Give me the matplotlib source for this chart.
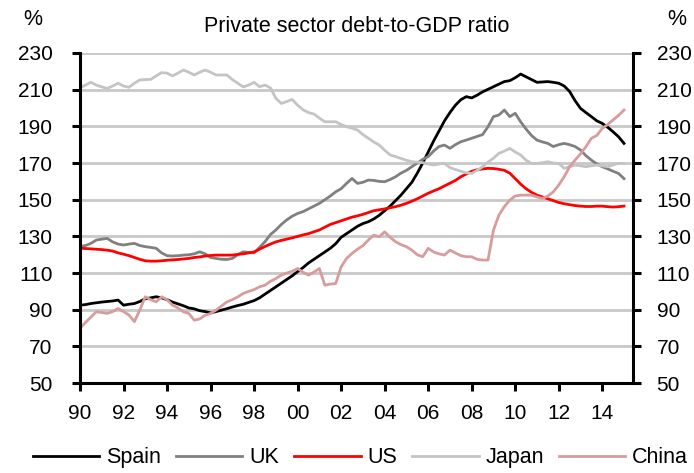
import matplotlib
matplotlib.use("Agg")
import matplotlib.pyplot as plt
import numpy as np

plt.rcParams['font.family'] = ['Liberation Sans', 'DejaVu Sans']

#%% quarterly data, 1990Q1 .. 2015Q1 (% of GDP)

years = 1990 + 0.25 * np.arange(101)

spain = [92.5, 92.8, 93.4, 93.8, 94.2, 94.5, 94.8, 95.3, 92.5, 93.0, 93.4, 94.5,
         96.0, 96.5, 97.1, 96.5, 95.5, 94.2, 93.2, 92.2, 91.0, 90.5, 89.5, 89.0,
         88.3, 89.0, 89.8, 90.6, 91.5, 92.3, 93.0, 94.0, 95.0, 96.5, 98.5, 100.5,
         102.5, 104.5, 106.5, 108.5, 110.8, 113.0, 115.5, 117.5, 119.5, 121.5, 123.5, 126.0,
         129.5, 131.5, 133.5, 135.5, 137.0, 138.0, 139.5, 141.5, 144.0, 146.5, 149.5, 152.5,
         156.0, 159.5, 164.5, 170.0, 176.0, 182.0, 187.5, 193.0, 197.5, 201.5, 204.5, 206.2,
         205.5, 207.0, 208.8, 210.2, 211.6, 213.0, 214.4, 214.9, 216.5, 218.5, 217.0, 215.5,
         214.0, 214.2, 214.4, 214.0, 213.5, 212.0, 209.0, 204.0, 199.8, 197.5, 195.3, 193.0,
         191.6, 189.5, 187.0, 184.3, 180.7]

uk = [124.5, 125.0, 126.2, 128.0, 128.5, 128.9, 127.0, 125.8, 125.3, 125.8, 126.2, 125.0,
      124.4, 124.0, 123.5, 121.0, 119.5, 119.3, 119.5, 119.8, 120.0, 120.5, 121.6, 120.5,
      118.5, 118.0, 117.5, 117.4, 118.0, 120.0, 121.6, 121.3, 121.0, 124.0, 127.1, 131.0,
      133.5, 136.5, 139.0, 141.0, 142.5, 143.5, 145.0, 146.5, 148.0, 150.0, 152.0, 154.3,
      156.0, 158.9, 161.6, 158.9, 159.5, 160.7, 160.5, 160.0, 159.8, 161.0, 162.5, 164.5,
      166.0, 168.0, 170.0, 172.0, 173.5, 176.5, 179.0, 179.8, 178.0, 180.0, 181.6, 182.5,
      183.5, 184.5, 185.5, 189.8, 195.3, 196.2, 198.9, 195.3, 197.1, 192.5, 188.5, 185.0,
      182.5, 181.5, 180.7, 179.0, 180.0, 180.7, 180.0, 179.0, 177.1, 174.0, 171.6, 169.5,
      168.0, 166.8, 165.5, 164.3, 161.5]

us = [123.5, 123.4, 123.2, 123.0, 122.8, 122.5, 122.0, 121.0, 120.3, 119.5, 118.5, 117.5,
      116.7, 116.5, 116.5, 116.7, 117.0, 117.2, 117.4, 117.7, 118.0, 118.5, 118.8, 119.3,
      119.6, 119.8, 119.8, 119.8, 119.8, 120.2, 120.5, 121.0, 121.5, 123.0, 124.5, 125.8,
      127.0, 127.8, 128.5, 129.2, 130.0, 130.8, 131.5, 132.5, 133.5, 135.0, 136.5, 137.5,
      138.5, 139.5, 140.5, 141.2, 142.0, 143.0, 144.0, 144.5, 145.0, 145.6, 146.2, 147.0,
      148.0, 149.2, 150.5, 152.0, 153.5, 154.8, 156.0, 157.5, 159.0, 160.5, 162.5, 164.0,
      165.5, 166.3, 166.8, 167.1, 167.0, 166.6, 166.0, 164.5, 161.5, 158.5, 156.0, 154.0,
      152.5, 151.5, 150.5, 149.5, 148.5, 147.8, 147.3, 146.8, 146.5, 146.3, 146.3, 146.5,
      146.5, 146.2, 146.0, 146.2, 146.5]

japan = [211.0, 212.5, 214.0, 212.5, 211.5, 210.7, 212.0, 213.5, 212.0, 211.3, 213.5, 215.3,
         215.5, 215.6, 217.5, 219.3, 219.0, 217.5, 219.0, 220.7, 219.5, 218.0, 219.5, 220.7,
         219.5, 218.0, 218.0, 218.0, 215.5, 213.5, 211.5, 212.5, 214.0, 211.6, 212.5, 211.0,
         205.3, 202.5, 203.5, 204.7, 201.5, 199.0, 197.5, 196.7, 194.5, 192.5, 192.5, 192.5,
         191.0, 189.8, 189.0, 188.0, 185.5, 183.5, 181.5, 179.8, 177.0, 174.4, 173.5, 172.5,
         171.5, 170.7, 170.5, 170.2, 169.5, 168.9, 169.5, 169.8, 167.5, 166.5, 165.5, 164.7,
         164.3, 166.0, 168.0, 170.5, 172.6, 175.3, 176.5, 178.0, 176.0, 174.4, 171.5, 169.8,
         169.8, 170.2, 170.7, 170.0, 169.8, 167.1, 168.0, 168.9, 168.5, 168.0, 168.5, 168.9,
         168.5, 168.0, 169.0, 169.8, 169.8]

china = [80.0, 83.0, 86.0, 88.9, 88.5, 88.0, 89.0, 90.7, 89.0, 87.1, 83.5, 90.0,
         97.1, 95.5, 94.3, 97.1, 95.5, 92.5, 91.0, 88.9, 88.0, 84.3, 85.0, 87.0,
         88.0, 89.8, 92.0, 94.3, 95.5, 97.0, 98.9, 100.0, 101.0, 102.5, 103.4, 105.5,
         107.0, 108.9, 110.0, 111.0, 112.5, 110.5, 108.9, 110.5, 112.5, 103.4, 104.0, 104.3,
         113.4, 118.0, 120.7, 123.0, 125.0, 128.0, 130.7, 129.8, 132.5, 129.5, 127.1, 125.5,
         124.4, 122.5, 120.0, 118.9, 123.5, 121.5, 120.5, 119.8, 122.5, 121.0, 119.5, 118.9,
         118.9, 117.5, 117.1, 117.1, 133.4, 141.6, 146.2, 149.8, 152.0, 152.5, 152.5, 152.5,
         151.5, 150.7, 152.0, 154.3, 158.0, 162.5, 168.0, 171.6, 175.0, 178.9, 183.5, 185.0,
         188.9, 191.0, 193.5, 196.0, 198.9]

names = ['Spain', 'UK', 'US', 'Japan', 'China']
colors = ['#000000', '#808080', '#ff0000', '#c4c4c4', '#d89c9c']

yticks = np.arange(50, 231, 20)
xticks = np.arange(1990, 2015, 2)
xlabels = ['{:02d}'.format(int(x) % 100) for x in xticks]

#%%

fig = plt.figure(figsize=(6.94, 4.73), dpi=100)
ax = fig.add_axes([0.1153, 0.190, 0.7967, 0.698])

for y in yticks:
    ax.axhline(y, color='#c8c8c8', lw=2.0, zorder=0)

for series, name, c in zip([spain, uk, us, japan, china], names, colors):
    ax.plot(years, series, color=c, lw=2.0, label=name)

ax.set_xlim(1990, 2015.41)
ax.set_ylim(50, 230)
ax.set_xticks(xticks)
ax.set_xticklabels(xlabels)
ax.set_yticks(yticks)

ax.spines['top'].set_visible(False)
for s in ['left', 'right', 'bottom']:
    ax.spines[s].set_linewidth(2.2)
ax.tick_params(axis='both', which='both', direction='out', length=6,
               width=2.2, labelsize=15, colors='black')
ax.tick_params(axis='y', right=True, labelright=True, pad=11)
ax.tick_params(axis='x', pad=9)
# left-hand labels sit a little further from the axis than the right ones
for t in ax.yaxis.get_major_ticks():
    t.label1.set_x(-4 / 553)

fig.text(0.5137, 0.943, 'Private sector debt-to-GDP ratio', ha='center',
         va='center', fontsize=15.5)
fig.text(0.0476, 0.958, '%', ha='center', va='center', fontsize=15.5)
fig.text(0.9755, 0.958, '%', ha='center', va='center', fontsize=15.5)

fig.legend(loc='center', bbox_to_anchor=(0.519, 0.032), ncol=5, frameon=False,
           fontsize=15.5, handlelength=3.1, handletextpad=0.3,
           columnspacing=0.7, borderaxespad=0)

fig.savefig('out.png', dpi=100)
